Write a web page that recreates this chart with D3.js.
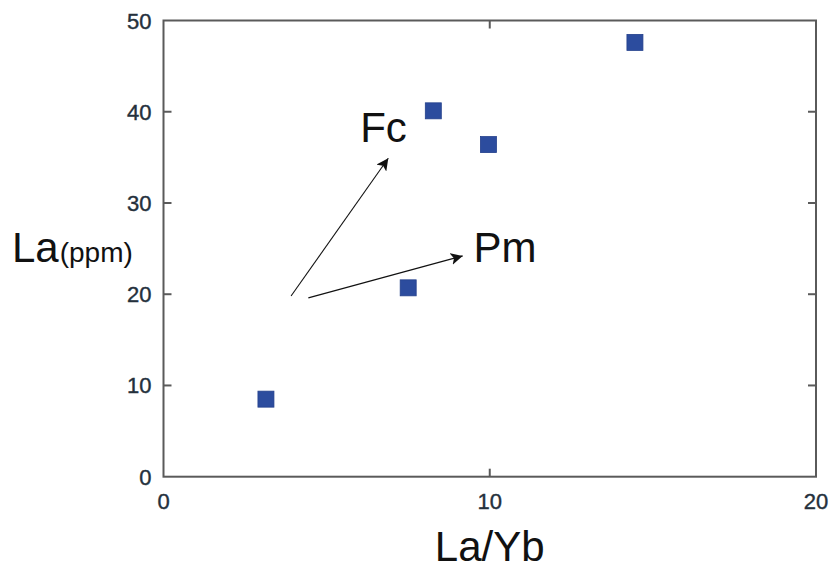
<!DOCTYPE html>
<html>
<head>
<meta charset="utf-8">
<script src="https://cdn.jsdelivr.net/npm/d3@7"></script>
<style>
  html, body { margin: 0; padding: 0; background: #fff; }
  svg { display: block; font-family: "Liberation Sans", Arial, sans-serif; }
</style>
</head>
<body>
<svg id="chart" width="829" height="570"></svg>
<script>
// ---- data ----
const laYb = [3.14, 7.50, 8.27, 9.96, 14.45];
const laPpm = [8.5, 20.7, 40.1, 36.4, 47.6];
const xTicks = [0, 10, 20];
const yTicks = [0, 10, 20, 30, 40, 50];
const arrowLabels = ["Fc", "Pm"];
const arrowStart = [[3.91, 19.8], [4.44, 19.6]];
const arrowEnd = [[6.89, 34.9], [9.17, 24.2]];
const labelPos = [[6.03, 36.7], [9.5, 23.5]];

// ---- layout ----
const plotL = 163.5, plotR = 816, plotT = 20.5, plotB = 476.7;
const svg = d3.select("#chart");

const x = d3.scaleLinear().domain([0, 20]).range([plotL, plotR]);
const y = d3.scaleLinear().domain([0, 50]).range([plotB, plotT]);

const frameColor = "#5a5a5a";
const tickColor = "#24303c";

// frame
svg.append("rect")
  .attr("x", plotL).attr("y", plotT)
  .attr("width", plotR - plotL).attr("height", plotB - plotT)
  .attr("fill", "none").attr("stroke", frameColor).attr("stroke-width", 2);

// inner ticks
const tickLen = 8;
const innerY = yTicks.filter(d => d > 0 && d < 50);
const innerX = xTicks.filter(d => d > 0 && d < 20);
const tg = svg.append("g").attr("stroke", frameColor).attr("stroke-width", 2);
innerY.forEach(d => {
  tg.append("line").attr("x1", plotL).attr("x2", plotL + tickLen).attr("y1", y(d)).attr("y2", y(d));
  tg.append("line").attr("x1", plotR).attr("x2", plotR - tickLen).attr("y1", y(d)).attr("y2", y(d));
});
innerX.forEach(d => {
  tg.append("line").attr("x1", x(d)).attr("x2", x(d)).attr("y1", plotB).attr("y2", plotB - tickLen);
  tg.append("line").attr("x1", x(d)).attr("x2", x(d)).attr("y1", plotT).attr("y2", plotT + tickLen);
});

// tick labels
svg.append("g").selectAll("text").data(yTicks).join("text")
  .attr("x", plotL - 12).attr("y", d => y(d) + 8)
  .attr("text-anchor", "end")
  .attr("font-size", 22).attr("fill", tickColor)
  .attr("stroke", tickColor).attr("stroke-width", 0.4)
  .text(d => d);
svg.append("g").selectAll("text").data(xTicks).join("text")
  .attr("x", d => x(d)).attr("y", 509)
  .attr("text-anchor", "middle")
  .attr("font-size", 22).attr("fill", tickColor)
  .attr("stroke", tickColor).attr("stroke-width", 0.4)
  .text(d => d);

// axis titles
svg.append("text").attr("x", x(10)).attr("y", 561)
  .attr("text-anchor", "middle").attr("font-size", 42).attr("fill", "#111")
  .text("La/Yb");
const yt = svg.append("text").attr("x", 12).attr("y", 262).attr("fill", "#111");
yt.append("tspan").attr("font-size", 42).text("La");
yt.append("tspan").attr("font-size", 28).attr("dx", 1).text("(ppm)");

// arrows
const defs = svg.append("defs");
defs.append("marker").attr("id", "ah")
  .attr("viewBox", "0 0 10 10").attr("refX", 10).attr("refY", 5)
  .attr("markerWidth", 12).attr("markerHeight", 12).attr("markerUnits", "userSpaceOnUse")
  .attr("orient", "auto")
  .append("path").attr("d", "M0,0 L10,5 L0,10 L2.5,5 Z").attr("fill", "#111");
arrowLabels.forEach((lab, i) => {
  svg.append("line")
    .attr("x1", x(arrowStart[i][0])).attr("y1", y(arrowStart[i][1]))
    .attr("x2", x(arrowEnd[i][0])).attr("y2", y(arrowEnd[i][1]))
    .attr("stroke", "#111").attr("stroke-width", 1.1)
    .attr("marker-end", "url(#ah)");
  svg.append("text")
    .attr("x", x(labelPos[i][0])).attr("y", y(labelPos[i][1]))
    .attr("font-size", 42).attr("fill", "#111")
    .text(lab);
});

// points
const s = 16;
svg.append("g").selectAll("rect").data(laYb).join("rect")
  .attr("x", (d) => x(d) - s / 2)
  .attr("y", (d, i) => y(laPpm[i]) - s / 2)
  .attr("width", s).attr("height", s)
  .attr("fill", "#2c4c9e").attr("stroke", "#24408c").attr("stroke-width", 0.8);
</script>
</body>
</html>
